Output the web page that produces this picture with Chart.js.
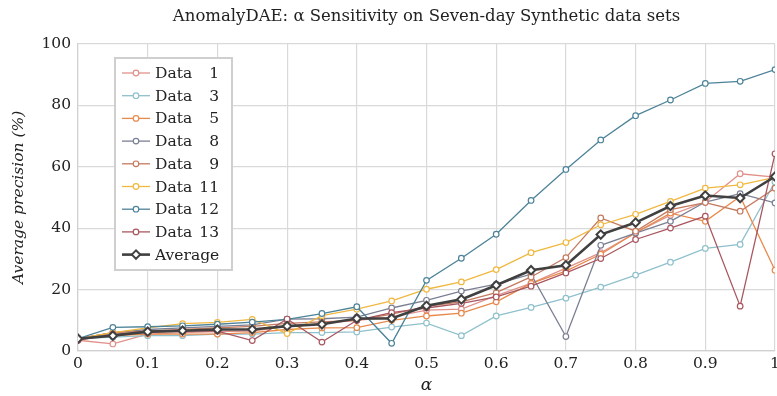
<!DOCTYPE html>
<html>
<head>
<meta charset="utf-8">
<script src="https://cdn.jsdelivr.net/npm/chart.js@4"></script>
<style>
  html, body { margin: 0; padding: 0; background: #fff; }
  #wrap { width: 777px; height: 396px; }
</style>
</head>
<body>
<div id="wrap"><canvas id="chart" width="777" height="396"></canvas></div>
<script>
// alpha sweep and average precision per data set
const alphas = [0, 0.05, 0.1, 0.15, 0.2, 0.25, 0.3, 0.35, 0.4, 0.45, 0.5, 0.55, 0.6, 0.65, 0.7, 0.75, 0.8, 0.85, 0.9, 0.95, 1];

const data1  = [3.5, 2.3, 5.5, 6.0, 6.3, 6.5, 8.0, 9.0, 10.0, 11.0, 13.3, 13.6, 18.0, 22.0, 27.0, 32.0, 38.5, 44.2, 48.5, 57.7, 56.6];
const data3  = [4.0, 4.5, 5.0, 5.0, 5.5, 5.5, 6.0, 6.0, 6.2, 7.8, 9.1, 5.0, 11.4, 14.2, 17.2, 20.8, 24.7, 28.9, 33.4, 34.7, 55.0];
const data5  = [4.0, 5.0, 5.5, 5.5, 5.5, 6.0, 7.0, 7.5, 7.6, 10.0, 11.4, 12.3, 16.0, 22.0, 26.0, 31.5, 38.5, 44.9, 42.2, 50.3, 26.3];
const data8  = [4.0, 6.0, 7.0, 7.5, 8.0, 8.5, 10.4, 10.5, 11.0, 14.0, 16.5, 19.5, 21.8, 25.0, 4.7, 34.4, 38.4, 42.2, 48.5, 51.2, 48.2];
const data9  = [4.0, 6.0, 6.5, 7.0, 7.5, 8.0, 9.0, 9.5, 10.0, 12.0, 14.5, 16.0, 19.0, 24.1, 30.4, 43.3, 39.0, 46.0, 48.3, 45.5, 53.0];
const data11 = [4.0, 6.0, 7.5, 8.9, 9.3, 10.3, 5.7, 11.5, 13.6, 16.3, 20.1, 22.5, 26.5, 32.0, 35.3, 41.1, 44.5, 48.7, 53.0, 54.1, 56.5];
const data12 = [4.0, 7.7, 7.9, 8.2, 8.7, 9.4, 10.3, 12.2, 14.4, 2.5, 23.0, 30.2, 38.0, 49.0, 59.1, 68.7, 76.6, 81.7, 87.1, 87.8, 91.6];
const data13 = [3.5, 5.5, 6.0, 6.5, 6.5, 3.4, 10.4, 2.9, 10.0, 12.5, 14.0, 15.5, 17.6, 21.1, 25.4, 30.1, 36.3, 40.0, 43.9, 14.6, 64.2];
const average = [4.0, 5.0, 6.3, 6.6, 7.0, 7.0, 8.1, 8.7, 10.6, 10.6, 14.7, 16.8, 21.4, 26.3, 27.9, 37.9, 41.8, 47.2, 50.6, 49.8, 56.8];

const seriesNames = ['Data 1', 'Data 3', 'Data 5', 'Data 8', 'Data 9', 'Data 11', 'Data 12', 'Data 13', 'Average'];
const seriesValues = [data1, data3, data5, data8, data9, data11, data12, data13, average];
const seriesColors = ['#e0928a', '#8fc0cc', '#e8894c', '#7b7f93', '#c47a5e', '#f0b840', '#4d8399', '#a9565f', '#404040'];

const SERIF = "'DejaVu Serif', 'Liberation Serif', serif";

const datasets = seriesNames.map((name, i) => {
  const isAvg = name === 'Average';
  return {
    label: name,
    data: alphas.map((a, j) => ({ x: a, y: seriesValues[i][j] })),
    borderColor: seriesColors[i],
    backgroundColor: '#ffffff',
    pointBackgroundColor: '#ffffff',
    pointBorderColor: seriesColors[i],
    borderWidth: isAvg ? 2.6 : 1.3,
    pointBorderWidth: isAvg ? 2 : 1.2,
    pointRadius: isAvg ? 4.2 : 2.8,
    pointStyle: isAvg ? 'rectRot' : 'circle',
    tension: 0,
    order: -i
  };
});

// boxed legend sitting inside the plot area
const legendBox = {
  id: 'legendBox',
  afterDatasetsDraw(chart) {
    const ctx = chart.ctx;
    const x0 = 115, y0 = 58, w = 117, h = 212;
    ctx.save();
    ctx.fillStyle = '#ffffff';
    ctx.fillRect(x0, y0, w, h);
    ctx.strokeStyle = '#cfcfcf';
    ctx.lineWidth = 2;
    ctx.strokeRect(x0, y0, w, h);

    chart.data.datasets.forEach((ds, i) => {
      const y = 73 + i * 22.7;
      ctx.strokeStyle = ds.borderColor;
      ctx.lineWidth = ds.borderWidth;
      ctx.beginPath();
      ctx.moveTo(122, y);
      ctx.lineTo(150, y);
      ctx.stroke();

      ctx.fillStyle = '#ffffff';
      ctx.lineWidth = ds.pointBorderWidth;
      Chart.helpers.drawPoint(ctx, {
        pointStyle: ds.pointStyle,
        radius: ds.pointRadius,
        borderWidth: ds.pointBorderWidth,
        rotation: 0
      }, 136, y);

      ctx.fillStyle = '#222222';
      ctx.font = '15.5px ' + SERIF;
      ctx.textBaseline = 'middle';
      const parts = ds.label.split(' ');
      ctx.textAlign = 'left';
      ctx.fillText(parts[0], 155, y + 1);
      if (parts[1]) {
        ctx.textAlign = 'right';
        ctx.fillText(parts[1], 219, y + 1);
      }
    });
    ctx.restore();
  }
};

new Chart(document.getElementById('chart'), {
  type: 'line',
  data: { datasets },
  options: {
    responsive: false,
    animation: false,
    layout: { autoPadding: false, padding: { left: 0, right: 2, top: 0, bottom: 0 } },
    plugins: {
      legend: { display: false },
      tooltip: { enabled: false },
      title: {
        display: true,
        fullSize: false,
        text: 'AnomalyDAE: α Sensitivity on Seven-day Synthetic data sets',
        color: '#222222',
        font: { family: SERIF, size: 16.5, weight: 'normal' },
        padding: { top: 7, bottom: 17 }
      }
    },
    scales: {
      x: {
        type: 'linear',
        min: 0,
        max: 1,
        ticks: {
          stepSize: 0.1,
          color: '#222222',
          font: { family: SERIF, size: 15.5 },
          padding: 4,
          maxRotation: 0,
          callback: v => String(+v.toFixed(2))
        },
        grid: { color: '#d9d9d9', lineWidth: 1.2, drawTicks: false },
        border: { color: '#d0d0d0', width: 1.2 },
        title: {
          display: true,
          text: 'α',
          color: '#222222',
          font: { family: SERIF, size: 17, style: 'italic' },
          padding: { top: 0, bottom: 0 }
        },
        afterFit(scale) {
          scale.height = 45;
          scale.paddingLeft = 0;
          scale.paddingRight = 0;
        }
      },
      y: {
        min: 0,
        max: 100,
        ticks: {
          stepSize: 20,
          color: '#222222',
          font: { family: SERIF, size: 15.5 },
          padding: 7
        },
        grid: { color: '#d9d9d9', lineWidth: 1.2, drawTicks: false },
        border: { color: '#d0d0d0', width: 1.2 },
        title: {
          display: true,
          text: 'Average precision (%)',
          color: '#222222',
          font: { family: SERIF, size: 15.5, style: 'italic' },
          padding: { top: 10, bottom: 4 }
        },
        afterFit(scale) {
          scale.width = 78;
          scale.paddingLeft = 0;
          scale.paddingRight = 0;
          scale.paddingTop = 0;
          scale.paddingBottom = 0;
        }
      }
    }
  },
  plugins: [legendBox]
});
</script>
</body>
</html>
